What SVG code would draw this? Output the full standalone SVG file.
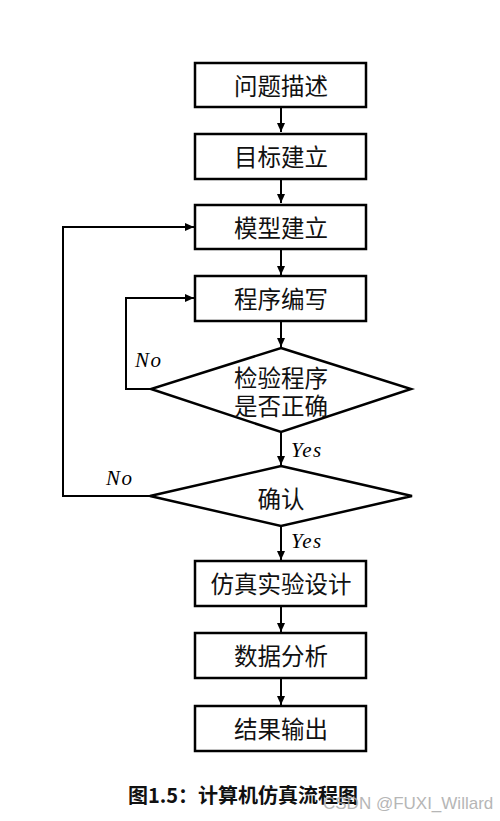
<svg xmlns="http://www.w3.org/2000/svg" width="500" height="821" viewBox="0 0 500 821">
<defs>
<marker id="ah" markerWidth="10" markerHeight="10" refX="9" refY="4" orient="auto" markerUnits="userSpaceOnUse">
<path d="M0,0 L9,4 L0,8 Z" fill="#000"/>
</marker>
<style>
.box{fill:#fff;stroke:#000;stroke-width:2.5}
.t{font-family:"Noto Sans CJK SC",sans-serif;font-size:23.5px;text-anchor:middle;fill:#111}
.c{fill:none;stroke:#000;stroke-width:2;marker-end:url(#ah)}
.lab{font-family:"Liberation Serif",serif;font-style:italic;font-size:21px;letter-spacing:1.5px;fill:#000}
</style>
</defs>
<rect width="500" height="821" fill="#fff"/>
<g id="connectors">
<path class="c" d="M281,107 V132"/>
<path class="c" d="M281,179 V203"/>
<path class="c" d="M281,249 V275"/>
<path class="c" d="M281,321 V347"/>
<path class="c" d="M281,432 V465"/>
<path class="c" d="M281,526 V560"/>
<path class="c" d="M281,606 V632"/>
<path class="c" d="M281,678 V705"/>
<path class="c" d="M151,389 H126 V298 H194"/>
<path class="c" d="M150,496 H63 V227 H194"/>
<text class="lab" x="135" y="367">No</text>
<text class="lab" x="106" y="485">No</text>
<text class="lab" x="291" y="457">Yes</text>
<text class="lab" x="291" y="548">Yes</text>
</g>
<g id="n1"><rect class="box" x="195" y="63" width="171" height="44"/><text class="t" x="281" y="95">问题描述</text></g>
<g id="n2"><rect class="box" x="195" y="134" width="171" height="45"/><text class="t" x="281" y="166">目标建立</text></g>
<g id="n3"><rect class="box" x="195" y="205" width="171" height="44"/><text class="t" x="281" y="237">模型建立</text></g>
<g id="n4"><rect class="box" x="195" y="276" width="171" height="45"/><text class="t" x="281" y="308">程序编写</text></g>
<g id="d1"><polygon class="box" points="281,348 411,389 281,432 151,389"/><text class="t" x="281" y="387">检验程序</text><text class="t" x="281" y="415">是否正确</text></g>
<g id="d2"><polygon class="box" points="281,466 412,496 281,526 150,496"/><text class="t" x="281" y="508">确认</text></g>
<g id="n5"><rect class="box" x="195" y="561" width="171" height="45"/><text class="t" x="281" y="593">仿真实验设计</text></g>
<g id="n6"><rect class="box" x="195" y="633" width="171" height="45"/><text class="t" x="281" y="665">数据分析</text></g>
<g id="n7"><rect class="box" x="195" y="706" width="171" height="45"/><text class="t" x="281" y="738">结果输出</text></g>
<text x="128" y="803" font-family="'Noto Sans CJK SC',sans-serif" font-weight="bold" font-size="20" fill="#111">图1.5：计算机仿真流程图</text>
<text x="323" y="809" font-family="'Liberation Sans',sans-serif" font-size="17" fill="#aaa" opacity="0.85">CSDN @FUXI_Willard</text>
</svg>
